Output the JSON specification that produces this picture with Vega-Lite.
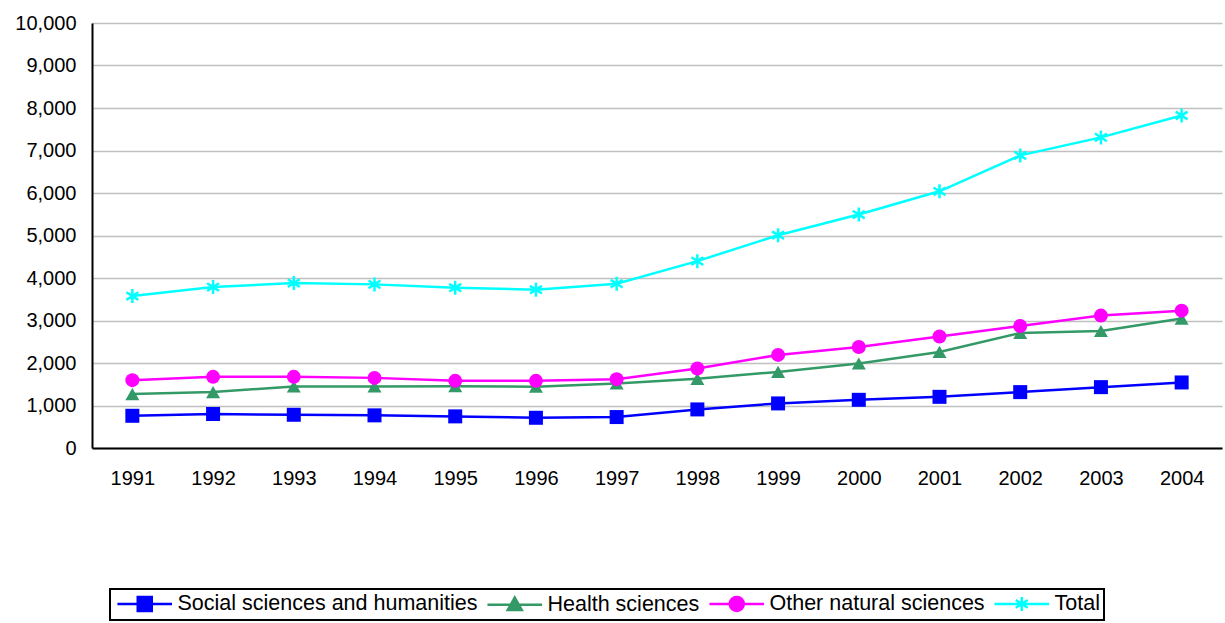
{
  "$schema": "https://vega.github.io/schema/vega-lite/v6.json",
  "width": 1130,
  "height": 425,
  "autosize": {"type": "none"},
  "padding": {"left": 92, "top": 23, "right": 3, "bottom": 175},
  "background": "white",
  "config": {
    "view": {"stroke": null},
    "font": "Liberation Sans",
    "axis": {"labelFont": "Liberation Sans", "labelColor": "black", "labelFontSize": 20, "ticks": false, "domainColor": "black", "domainWidth": 2}
  },
  "data": {
    "values": [
      {"year": "1991", "series": "Social sciences and humanities", "value": 758},
      {"year": "1992", "series": "Social sciences and humanities", "value": 800},
      {"year": "1993", "series": "Social sciences and humanities", "value": 782},
      {"year": "1994", "series": "Social sciences and humanities", "value": 768},
      {"year": "1995", "series": "Social sciences and humanities", "value": 744},
      {"year": "1996", "series": "Social sciences and humanities", "value": 711},
      {"year": "1997", "series": "Social sciences and humanities", "value": 728},
      {"year": "1998", "series": "Social sciences and humanities", "value": 908},
      {"year": "1999", "series": "Social sciences and humanities", "value": 1049},
      {"year": "2000", "series": "Social sciences and humanities", "value": 1134},
      {"year": "2001", "series": "Social sciences and humanities", "value": 1204},
      {"year": "2002", "series": "Social sciences and humanities", "value": 1315},
      {"year": "2003", "series": "Social sciences and humanities", "value": 1432},
      {"year": "2004", "series": "Social sciences and humanities", "value": 1542},
      {"year": "1991", "series": "Health sciences", "value": 1268},
      {"year": "1992", "series": "Health sciences", "value": 1315},
      {"year": "1993", "series": "Health sciences", "value": 1448},
      {"year": "1994", "series": "Health sciences", "value": 1448},
      {"year": "1995", "series": "Health sciences", "value": 1455},
      {"year": "1996", "series": "Health sciences", "value": 1440},
      {"year": "1997", "series": "Health sciences", "value": 1519},
      {"year": "1998", "series": "Health sciences", "value": 1627},
      {"year": "1999", "series": "Health sciences", "value": 1791},
      {"year": "2000", "series": "Health sciences", "value": 1988},
      {"year": "2001", "series": "Health sciences", "value": 2261},
      {"year": "2002", "series": "Health sciences", "value": 2707},
      {"year": "2003", "series": "Health sciences", "value": 2754},
      {"year": "2004", "series": "Health sciences", "value": 3045},
      {"year": "1991", "series": "Other natural sciences", "value": 1596},
      {"year": "1992", "series": "Other natural sciences", "value": 1674},
      {"year": "1993", "series": "Other natural sciences", "value": 1674},
      {"year": "1994", "series": "Other natural sciences", "value": 1650},
      {"year": "1995", "series": "Other natural sciences", "value": 1580},
      {"year": "1996", "series": "Other natural sciences", "value": 1580},
      {"year": "1997", "series": "Other natural sciences", "value": 1620},
      {"year": "1998", "series": "Other natural sciences", "value": 1870},
      {"year": "1999", "series": "Other natural sciences", "value": 2190},
      {"year": "2000", "series": "Other natural sciences", "value": 2378},
      {"year": "2001", "series": "Other natural sciences", "value": 2622},
      {"year": "2002", "series": "Other natural sciences", "value": 2871},
      {"year": "2003", "series": "Other natural sciences", "value": 3115},
      {"year": "2004", "series": "Other natural sciences", "value": 3232},
      {"year": "1991", "series": "Total", "value": 3575},
      {"year": "1992", "series": "Total", "value": 3787},
      {"year": "1993", "series": "Total", "value": 3881},
      {"year": "1994", "series": "Total", "value": 3850},
      {"year": "1995", "series": "Total", "value": 3772},
      {"year": "1996", "series": "Total", "value": 3725},
      {"year": "1997", "series": "Total", "value": 3866},
      {"year": "1998", "series": "Total", "value": 4397},
      {"year": "1999", "series": "Total", "value": 5007},
      {"year": "2000", "series": "Total", "value": 5493},
      {"year": "2001", "series": "Total", "value": 6040},
      {"year": "2002", "series": "Total", "value": 6885},
      {"year": "2003", "series": "Total", "value": 7308},
      {"year": "2004", "series": "Total", "value": 7824}
    ]
  },
  "encoding": {
    "x": {
      "field": "year", "type": "ordinal",
      "scale": {"type": "point", "padding": 0.5},
      "axis": {"title": null, "labelAngle": 0, "grid": false, "labelPadding": 20}
    },
    "y": {
      "field": "value", "type": "quantitative",
      "scale": {"domain": [0, 10000], "nice": false},
      "axis": {"title": null, "tickCount": 10, "format": ",.0f", "grid": true, "gridColor": "#C0C0C0", "gridWidth": 1.5, "labelPadding": 16}
    },
    "color": {
      "field": "series", "type": "nominal",
      "scale": {
        "domain": ["Social sciences and humanities", "Health sciences", "Other natural sciences", "Total"],
        "range": ["#0000FF", "#339966", "#FF00FF", "#00FFFF"]
      },
      "legend": {
        "title": null,
        "orient": "none",
        "direction": "horizontal",
        "legendX": 18,
        "legendY": 566,
        "padding": 4,
        "symbolSize": 196,
        "symbolOffset": 20,
        "symbolStrokeWidth": 2.5,
        "labelOffset": 22,
        "columnPadding": 4,
        "labelFontSize": 21.5,
        "labelFont": "Liberation Sans",
        "labelColor": "black",
        "labelLimit": 0,
        "strokeColor": "black",
        "encode": {
          "legend": {"update": {"stroke": {"value": "black"}, "strokeWidth": {"value": 2}, "fill": {"value": "white"}}},
          "symbols": {
            "update": {
              "shape": {"signal": "datum.value === 'Total' ? 'M-3.9,0H3.9M0,-1V1M-0.85,-0.55L0.85,0.55M-0.85,0.55L0.85,-0.55' : datum.value === 'Health sciences' ? 'M-3.9,0H3.9M0,-1L1,0.75H-1Z' : datum.value === 'Other natural sciences' ? 'M-3.9,0H3.9M1,0A1,1,0,1,1,-1,0A1,1,0,1,1,1,0Z' : 'M-3.9,0H3.9M-1,-1H1V1H-1Z'"},
              "fill": {"scale": "color", "field": "value"},
              "stroke": {"scale": "color", "field": "value"},
              "strokeWidth": {"value": 2.5},
              "opacity": {"value": 1},
              "size": {"value": 196}
            }
          }
        }
      }
    }
  },
  "layer": [
    {"mark": {"type": "line", "strokeWidth": 2.5}},
    {
      "transform": [{"filter": "datum.series !== 'Total'"}],
      "mark": {"type": "point", "filled": true, "size": 196, "opacity": 1},
      "encoding": {
        "shape": {
          "field": "series", "type": "nominal",
          "scale": {"domain": ["Social sciences and humanities", "Health sciences", "Other natural sciences"], "range": ["square", "triangle-up", "circle"]},
          "legend": null
        }
      }
    },
    {
      "transform": [{"filter": "datum.series === 'Total'"}],
      "mark": {"type": "point", "filled": false, "size": 196, "opacity": 1, "strokeWidth": 2.5, "shape": "M0,-1V1M-0.85,-0.55L0.85,0.55M-0.85,0.55L0.85,-0.55"}
    }
  ]
}
